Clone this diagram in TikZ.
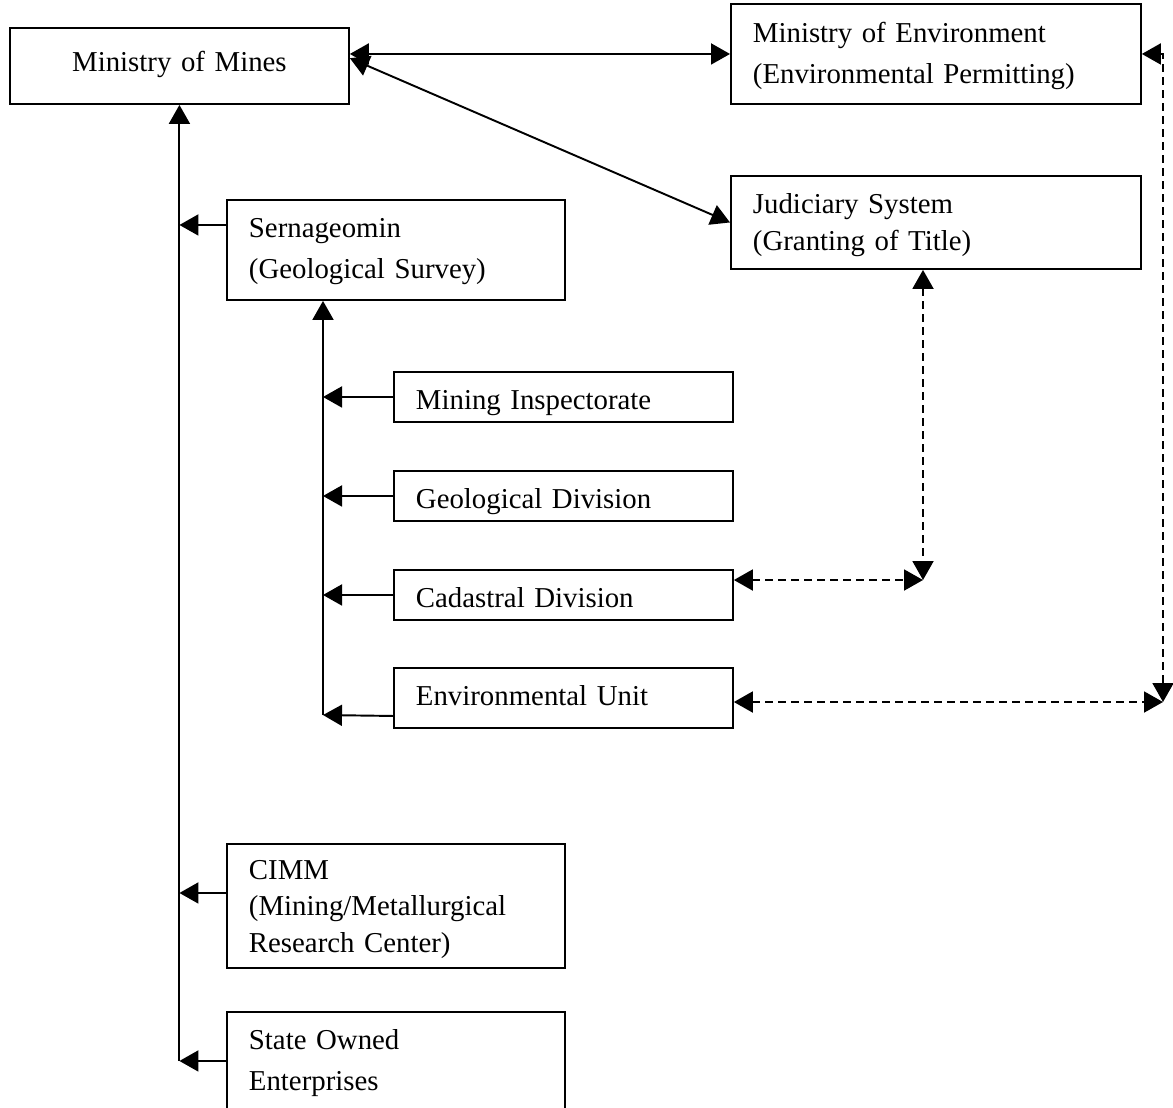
\documentclass[tikz,border=0pt]{standalone}
\usepackage{fontspec}
\setmainfont{Liberation Serif}
\usepackage{tikz}
\usetikzlibrary{positioning, calc, arrows.meta}

\tikzset{
  box/.style={draw, line width=1.1pt, anchor=north west, inner xsep=0.44cm, inner ysep=0pt,
    align=left, font=\fontsize{16.4pt}{23.3pt}\selectfont},
  dashlink/.style={dashed, dash pattern=on 0.16cm off 0.1cm}
}

\begin{document}
\begin{tikzpicture}[x=0.02cm, y=-0.02cm, line width=1.1pt,
    >={Triangle[length=0.38cm, width=0.42cm]}]
      \useasboundingbox (0,0) rectangle (1173,1107);

      % 上の箱
      \node[box, align=center, text width=5.9cm, text height=0.88cm, text depth=0.64cm] (mines) at (9,27) {Ministry of Mines};
      \node[box, text width=7.32cm, text height=0.77cm, text depth=1.23cm,
        font=\fontsize{16.4pt}{23.6pt}\selectfont] (minenv) at (730,3) {Ministry of Environment\\(Environmental Permitting)};
      \node[box, text width=7.32cm, text height=0.76cm, text depth=1.1cm,
        font=\fontsize{16.4pt}{21pt}\selectfont] (judic) at (730,175) {Judiciary System\\(Granting of Title)};
      \node[box, text width=5.88cm, text height=0.76cm, text depth=1.24cm] (sern) at (226,199) {Sernageomin\\(Geological Survey)};

      % Sernageomin の下の箱
      \node[box, text width=5.9cm, text height=0.76cm, text depth=0.24cm] (minsp) at (393,371) {Mining Inspectorate};
      \node[box, text width=5.9cm, text height=0.76cm, text depth=0.24cm] (geodiv) at (393,470) {Geological Division};
      \node[box, text width=5.9cm, text height=0.76cm, text depth=0.24cm] (cadas) at (393,569) {Cadastral Division};
      \node[box, text width=5.9cm, text height=0.76cm, text depth=0.44cm] (envu) at (393,667) {Environmental Unit};

      % 下の箱
      \node[box, text width=5.88cm, text height=0.72cm, text depth=1.76cm,
        font=\fontsize{16.4pt}{20.5pt}\selectfont] (cimm) at (226,843) {CIMM\\(Mining/Metallurgical\\Research Center)};
      \node[box, text width=5.88cm, text height=0.76cm, text depth=1.2cm] (stateo) at (226,1011) {State Owned\\Enterprises};

      % 幹線
      \coordinate (t2) at (323,715);
      \draw[->] (stateo.west -| mines.south) -- (mines.south);
      \draw[->] (t2) -- (t2 |- sern.south);

      % 枝の矢印
      \draw[->] ([yshift=0.5cm]sern.west) -- ([yshift=0.5cm]sern.west -| mines.south);
      \draw[->] ([yshift=0.26cm]cimm.west) -- ([yshift=0.26cm]cimm.west -| mines.south);
      \draw[->] (stateo.west) -- (stateo.west -| mines.south);
      \draw[->] (minsp.west) -- (minsp.west -| t2);
      \draw[->] (geodiv.west) -- (geodiv.west -| t2);
      \draw[->] (cadas.west) -- (cadas.west -| t2);
      \draw[->] ([yshift=-0.36cm]envu.west) -- (t2);

      % 省との矢印
      \draw[<->] (mines.east |- minenv.west) -- (minenv.west);
      \draw[<->] ($(mines.north east)!0.4!(mines.south east)$) -- (judic.west);

      % 破線の矢印
      \coordinate (c1) at (923,580);
      \coordinate (c2) at (1163,702);
      \draw[dashlink, <->] (c1 |- judic.south) -- (c1);
      \draw[dashlink, <->] (cadas.east |- c1) -- (c1);
      \draw[dashlink, <->] (minenv.east) -| (c2);
      \draw[dashlink, <->] (envu.east |- c2) -- (c2);
  \end{tikzpicture}
\end{document}
